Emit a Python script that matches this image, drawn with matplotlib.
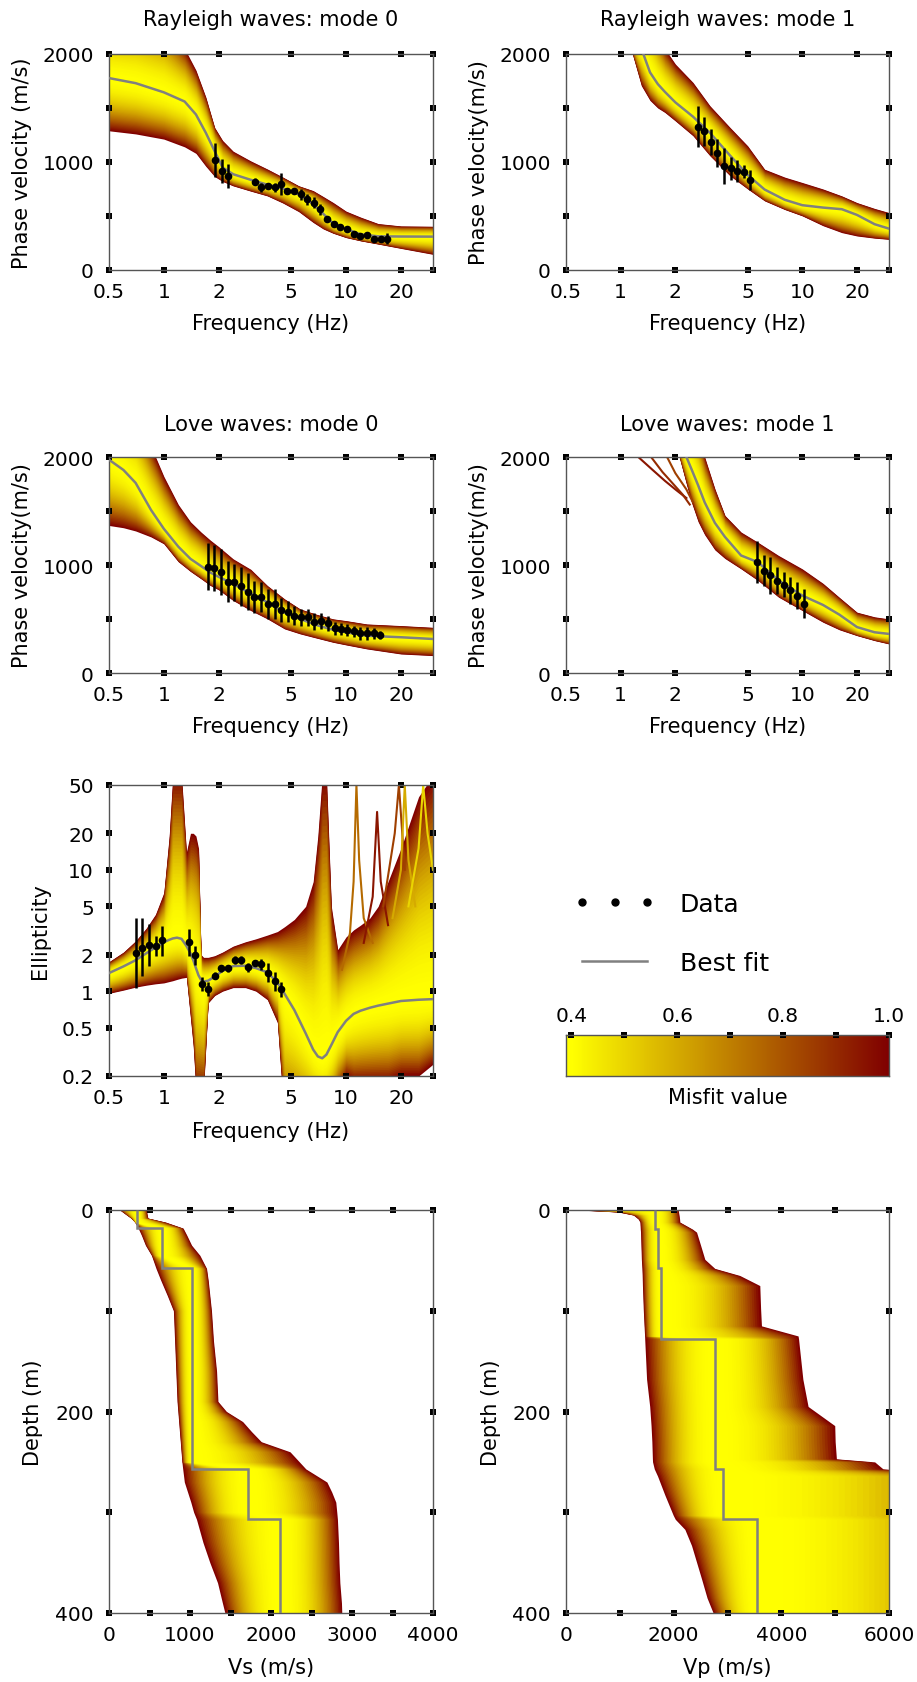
import numpy as np
import matplotlib
matplotlib.use('Agg')
import matplotlib.pyplot as plt
from matplotlib.colors import LinearSegmentedColormap, Normalize
from matplotlib.lines import Line2D
from matplotlib.legend_handler import HandlerLine2D

plt.rcParams['font.family'] = 'DejaVu Sans'

# ---------------- data ----------------
# Rayleigh mode 0
r0_f = [1.91, 2.08, 2.26, 3.17, 3.42, 3.72, 4.05, 4.40, 4.73, 5.15, 5.65, 6.10,
        6.64, 7.23, 7.86, 8.55, 9.31, 10.1, 11.0, 12.0, 13.1, 14.2, 15.5, 16.7]
r0_v = [1017, 918, 872, 819, 764, 779, 764, 794, 733, 733, 702, 655,
        624, 563, 470, 424, 399, 377, 337, 315, 321, 291, 291, 291]
r0_err = [160, 110, 110, 30, 40, 30, 40, 100, 30, 30, 50, 50,
          50, 50, 30, 20, 20, 20, 20, 20, 20, 20, 20, 50]
r0_grid = [0.5, 0.7, 1.0, 1.3, 1.5, 1.7, 1.9, 2.1, 2.4, 3.0, 3.7, 4.5, 5.5, 6.6,
           7.5, 8.5, 10, 12, 15, 20, 30]
r0_best = [1777, 1730, 1645, 1560, 1440, 1270, 1100, 950, 887, 835, 790, 755, 700, 610,
           520, 430, 380, 330, 312, 310, 309]
r0_hi = [2400, 2400, 2300, 2050, 1850, 1600, 1320, 1200, 1100, 1010, 935, 860, 780, 735,
         680, 625, 545, 490, 430, 408, 405]
r0_lo = [1289, 1260, 1212, 1140, 1080, 960, 865, 820, 779, 730, 686, 620, 540, 440,
         380, 340, 300, 270, 240, 200, 145]

# Rayleigh mode 1
r1_f = [2.65, 2.88, 3.13, 3.41, 3.71, 4.04, 4.39, 4.76, 5.18]
r1_v = [1326, 1283, 1187, 1082, 964, 940, 918, 912, 832]
r1_err = [190, 135, 120, 130, 165, 110, 100, 60, 90]
r1_grid = [1.16, 1.3, 1.45, 1.6, 1.75, 2.0, 2.5, 3.1, 4.0, 5.0, 6.2, 8.0, 10, 13, 16.5,
           20, 25, 30]
r1_best = [2150, 2050, 1830, 1722, 1650, 1552, 1420, 1270, 1060, 880, 745, 650, 600, 578,
           563, 510, 424, 383]
r1_hi = [2600, 2500, 2400, 2200, 2050, 1907, 1737, 1521, 1320, 1150, 933, 860, 810, 750,
         686, 624, 570, 532]
r1_lo = [2000, 1706, 1570, 1500, 1459, 1380, 1243, 1057, 872, 750, 640, 560, 501, 410,
         346, 315, 295, 284]

# Love mode 0
l0_f = [1.75, 1.89, 2.06, 2.24, 2.44, 2.65, 2.89, 3.14, 3.42, 3.72, 4.05, 4.40, 4.79,
        5.21, 5.68, 6.18, 6.71, 7.31, 7.96, 8.67, 9.42, 10.1, 11.0, 12.0, 13.0, 14.2, 15.3]
l0_v = [986, 971, 934, 847, 841, 801, 754, 708, 702, 640, 640, 584, 569,
        532, 516, 516, 476, 485, 461, 414, 408, 399, 386, 368, 368, 368, 352]
l0_err = [216, 216, 216, 193, 170, 178, 170, 148, 140, 140, 140, 110, 100,
          85, 80, 80, 75, 75, 70, 60, 55, 55, 50, 60, 60, 50, 40]
l0_grid = [0.5, 0.6, 0.7, 0.85, 1.0, 1.2, 1.4, 1.6, 1.8, 2.0, 2.4, 3.0, 3.7, 4.6, 5.6,
           7.0, 8.5, 10, 13, 20, 30]
l0_best = [1975, 1880, 1760, 1510, 1335, 1170, 1057, 990, 930, 890, 825, 735, 655, 560,
           500, 440, 400, 377, 345, 331, 315]
l0_hi = [2500, 2500, 2450, 2100, 1820, 1560, 1400, 1305, 1230, 1170, 1057, 960, 810, 686,
         593, 540, 501, 485, 454, 439, 423]
l0_lo = [1366, 1345, 1315, 1260, 1196, 1030, 940, 872, 810, 770, 671, 578, 501, 408,
         362, 320, 284, 260, 223, 176, 161]

# Love mode 1
l1_f = [5.64, 6.13, 6.67, 7.26, 7.89, 8.59, 9.35, 10.2]
l1_v = [1026, 949, 903, 856, 819, 764, 717, 640]
l1_err = [193, 147, 170, 124, 116, 124, 127, 134]
l1_grid = [2.1, 2.3, 2.45, 2.67, 2.9, 3.3, 3.75, 4.6, 5.7, 7.4, 10, 13, 16, 20, 25, 30]
l1_best = [2150, 2000, 1890, 1737, 1580, 1390, 1260, 1088, 1026, 856, 717, 630, 540,
           425, 377, 362]
l1_hi = [2700, 2500, 2400, 2250, 2000, 1706, 1459, 1305, 1210, 1088, 964, 830, 700,
         563, 520, 501]
l1_lo = [2000, 1750, 1583, 1400, 1280, 1140, 1060, 964, 856, 702, 578, 470, 400,
         346, 300, 269]
l1_stray_f = [[1.25, 1.5, 1.75, 2.0, 2.3], [1.47, 1.7, 1.9, 2.2, 2.4], [1.8, 2.0, 2.3, 2.5]]
l1_stray_v = [[2000, 1880, 1780, 1700, 1620], [2000, 1860, 1770, 1650, 1560],
              [2000, 1850, 1700, 1580]]
l1_stray_m = [0.95, 0.9, 0.85]

# Ellipticity
el_f = [0.70, 0.76, 0.83, 0.90, 0.98, 1.37, 1.48, 1.61, 1.75, 1.91, 2.06, 2.24, 2.46,
        2.65, 2.89, 3.17, 3.42, 3.72, 4.05, 4.40]
el_v = [2.08, 2.28, 2.41, 2.36, 2.63, 2.53, 1.98, 1.14, 1.04, 1.34, 1.54, 1.54, 1.81,
        1.81, 1.57, 1.70, 1.66, 1.42, 1.21, 1.04]
el_lo_err = [1.07, 1.34, 1.61, 1.95, 1.95, 1.95, 1.65, 1.0, 0.92, 1.25, 1.44, 1.44, 1.68,
             1.68, 1.45, 1.60, 1.50, 1.2, 1.0, 0.9]
el_hi_err = [3.98, 3.98, 3.56, 2.86, 3.46, 3.25, 2.35, 1.3, 1.18, 1.45, 1.65, 1.65, 1.95,
             1.95, 1.70, 1.80, 1.85, 1.7, 1.45, 1.2]
el_grid = [0.5, 0.6, 0.7, 0.8, 0.9, 1.0, 1.07, 1.12, 1.18, 1.25, 1.33, 1.4, 1.45, 1.5,
           1.55, 1.6, 1.65, 1.75, 1.9, 2.1, 2.4, 2.8, 3.2, 3.7, 4.2, 4.6, 5.2, 6.0, 6.6,
           7.0, 7.4, 7.8, 8.3, 9.0, 10, 11, 12, 13.5, 15, 17, 20, 25, 30]
el_best = [1.41, 1.6, 1.8, 2.05, 2.3, 2.53, 2.65, 2.72, 2.76, 2.7, 2.36, 2.05, 1.8, 1.55,
           1.35, 1.24, 1.2, 1.22, 1.32, 1.47, 1.61, 1.62, 1.55, 1.43, 1.18, 0.95, 0.70,
           0.45, 0.33, 0.29, 0.28, 0.30, 0.36, 0.46, 0.57, 0.65, 0.69, 0.73, 0.76, 0.79,
           0.83, 0.85, 0.86]
el_hi = [1.75, 2.1, 2.6, 3.3, 4.3, 6.5, 19, 60, 60, 60, 14, 20, 20, 19,
         15, 2.0, 1.9, 1.9, 1.96, 2.1, 2.35, 2.55, 2.7, 2.9, 3.1, 3.4, 3.9,
         5.0, 8, 19, 60, 60, 5, 2.2, 2.8, 3.2, 3.5, 4, 5, 8,
         15, 40, 60]
el_lo = [0.96, 1.02, 1.08, 1.12, 1.15, 1.17, 1.2, 1.22, 1.25, 1.28, 1.3, 0.6, 0.35, 0.15,
         0.15, 0.15, 0.15, 0.8, 0.92, 1.0, 1.07, 1.07, 1.0, 0.85, 0.55, 0.08, 0.08,
         0.08, 0.08, 0.08, 0.08, 0.08, 0.1, 0.15, 0.2, 0.18, 0.18, 0.18, 0.18, 0.18,
         0.2, 0.2, 0.25]
el_spike_f = [[9.5, 10.5, 11.0, 11.4, 11.8, 12.5, 14], [12.5, 14, 14.8, 15.5, 17],
              [16, 18.5, 19.5, 21], [18, 20, 21, 22, 24], [22, 25, 26.5, 28, 30]]
el_spike_v = [[1.5, 3, 8, 50, 12, 4, 2.5], [2.5, 6, 30, 8, 3.5],
              [5, 20, 50, 10], [4, 10, 50, 12, 5], [5, 15, 50, 20, 10]]
el_spike_m = [0.75, 0.95, 0.85, 0.6, 0.5]

# Vs profile
vs_depth = [0, 4, 8, 12, 18, 25, 35, 45, 58, 70, 85, 100, 130, 160, 190, 200, 210, 220,
            230, 240, 250, 257, 270, 280, 290, 300, 307, 330, 350, 370, 390, 400]
vs_lo = [132, 200, 270, 318, 360, 400, 450, 524, 580, 640, 720, 795, 810, 825, 840, 850,
         860, 870, 880, 890, 900, 910, 930, 970, 1010, 1045, 1080, 1160, 1245, 1340,
         1400, 1431]
vs_hi = [462, 470, 480, 700, 915, 960, 1020, 1122, 1204, 1225, 1245, 1265, 1290, 1328,
         1345, 1450, 1650, 1760, 1880, 2235, 2350, 2430, 2690, 2750, 2800, 2812, 2820,
         2833, 2840, 2850, 2870, 2874]
vs_best_top = [0, 18, 58, 257, 307]
vs_best = [340, 655, 1020, 1720, 2110]

# Vp profile
vp_depth = [0, 2, 5, 9, 12, 19, 22, 35, 49, 58, 65, 75, 98, 115, 125, 128, 168, 195, 214,
            230, 247, 250, 257, 264, 283, 303, 307, 317, 333, 366, 385, 400]
vp_lo = [229, 971, 1250, 1342, 1373, 1380, 1385, 1392, 1400, 1410, 1415, 1420, 1435,
         1450, 1460, 1462, 1497, 1555, 1580, 1595, 1605, 1608, 1640, 1700, 1837, 1992,
         2030, 2208, 2332, 2517, 2620, 2734]
vp_hi = [2085, 2090, 2100, 2110, 2115, 2350, 2425, 2500, 2579, 2765, 3229, 3600, 3615,
         3631, 4311, 4320, 4400, 4497, 4992, 5000, 5023, 5734, 5889, 8000, 8000, 8000,
         8000, 8000, 8000, 8000, 8000, 8000]
vp_best_top = [0, 19, 58, 128, 257, 307]
vp_best = [1650, 1710, 1760, 2760, 2920, 3550]

# ---------------- styling ----------------
cmap = LinearSegmentedColormap.from_list('misfit', ['#ffff00', '#800000'])
norm = Normalize(0.4, 1.0)
GRAY = '#808080'
TICK_FS = 14.5
LAB_FS = 15


def rect(l, t, r, b):
    return [l / 917, 1 - b / 1683, (r - l) / 917, (b - t) / 1683]


def band(ax, x, best, lo, hi, logy=False, vertical=False, n=45, power=2.0):
    best, lo, hi = np.asarray(best, float), np.asarray(lo, float), np.asarray(hi, float)
    if logy:
        best, lo, hi = np.log10(best), np.log10(lo), np.log10(hi)
    for t in np.linspace(1, 0.02, n):
        m = 0.4 + 0.6 * t ** power
        a = best - t * (best - lo)
        b = best + t * (hi - best)
        if logy:
            a, b = 10 ** a, 10 ** b
        if vertical:
            ax.fill_betweenx(x, a, b, color=cmap(norm(m)), lw=0)
        else:
            ax.fill_between(x, a, b, color=cmap(norm(m)), lw=0)


def style(ax, xticks, xlabels, yticks, ylabels):
    ax.set_xticks(xticks)
    ax.set_xticklabels(xlabels)
    ax.set_yticks(yticks)
    ax.set_yticklabels(ylabels)
    ax.minorticks_off()
    ax.tick_params(direction='inout', length=3.8, width=0, top=True, right=True,
                   labelsize=TICK_FS, colors='black')
    ax.tick_params(axis='x', pad=7)
    ax.tick_params(axis='y', pad=9)
    for tick in ax.xaxis.get_major_ticks() + ax.yaxis.get_major_ticks():
        for ln in (tick.tick1line, tick.tick2line):
            ln.set_marker('s')
            ln.set_markerfacecolor('black')
            ln.set_markeredgewidth(0)
    for sp in ax.spines.values():
        sp.set_color('#555555')
        sp.set_linewidth(1.0)


f_ticks = [0.5, 1, 2, 5, 10, 20, 30]
f_labels = ['0.5', '1', '2', '5', '10', '20', '']
v_ticks = [0, 500, 1000, 1500, 2000]
v_labels = ['0', '', '1000', '', '2000']

fig = plt.figure(figsize=(9.17, 16.83), dpi=100)

panels = [
    (rect(109, 55, 433, 271), 'Rayleigh waves: mode 0', 'Phase velocity (m/s)', 1.162,
     r0_grid, r0_best, r0_lo, r0_hi, r0_f, r0_v, r0_err),
    (rect(566, 55, 889, 271), 'Rayleigh waves: mode 1', 'Phase velocity(m/s)', 1.162,
     r1_grid, r1_best, r1_lo, r1_hi, r1_f, r1_v, r1_err),
    (rect(109, 458, 433, 674), 'Love waves: mode 0', 'Phase velocity(m/s)', 1.153,
     l0_grid, l0_best, l0_lo, l0_hi, l0_f, l0_v, l0_err),
    (rect(566, 458, 889, 674), 'Love waves: mode 1', 'Phase velocity(m/s)', 1.153,
     l1_grid, l1_best, l1_lo, l1_hi, l1_f, l1_v, l1_err),
]

axes = []
for pos, title, ylab, ty, grid, best, lo, hi, fd, vd, ed in panels:
    ax = fig.add_axes(pos)
    ax.set_xscale('log')
    band(ax, grid, best, lo, hi)
    ax.plot(grid, best, color=GRAY, lw=1.8, zorder=4)
    ax.errorbar(fd, vd, yerr=ed, fmt='o', color='black', ms=4.5, elinewidth=1.8,
                capsize=0, zorder=5)
    ax.set_xlim(0.5, 30)
    ax.set_ylim(0, 2000)
    style(ax, f_ticks, f_labels, v_ticks, v_labels)
    ax.set_title(title, fontsize=LAB_FS, y=ty, va='center', pad=0)
    ax.set_xlabel('Frequency (Hz)', fontsize=LAB_FS, va='center')
    ax.xaxis.set_label_coords(0.5, -0.245)
    ax.set_ylabel(ylab, fontsize=LAB_FS, va='center')
    ax.yaxis.set_label_coords(-0.268, 0.5)
    axes.append(ax)

# stray high-misfit curves in Love mode 1
for sf, sv, sm in zip(l1_stray_f, l1_stray_v, l1_stray_m):
    axes[3].plot(sf, sv, color=cmap(norm(sm)), lw=1.5, zorder=1)

# Ellipticity
ax5 = fig.add_axes(rect(109, 786, 433, 1077))
ax5.set_xscale('log')
ax5.set_yscale('log')
band(ax5, el_grid, el_best, el_lo, el_hi, logy=True)
for sf, sv, sm in zip(el_spike_f, el_spike_v, el_spike_m):
    ax5.plot(sf, sv, color=cmap(norm(sm)), lw=1.5, zorder=2)
ax5.plot(el_grid, el_best, color=GRAY, lw=1.8, zorder=4)
el_yerr = [np.array(el_v) - np.array(el_lo_err), np.array(el_hi_err) - np.array(el_v)]
ax5.errorbar(el_f, el_v, yerr=el_yerr, fmt='o', color='black', ms=4.5, elinewidth=1.8,
             capsize=0, zorder=5)
ax5.set_xlim(0.5, 30)
ax5.set_ylim(0.2, 50)
e_ticks = [0.2, 0.5, 1, 2, 5, 10, 20, 50]
style(ax5, f_ticks, f_labels, e_ticks, ['0.2', '0.5', '1', '2', '5', '10', '20', '50'])
ax5.set_xlabel('Frequency (Hz)', fontsize=LAB_FS, va='center')
ax5.xaxis.set_label_coords(0.5, -0.189)
ax5.set_ylabel('Ellipticity', fontsize=LAB_FS, va='center')
ax5.yaxis.set_label_coords(-0.213, 0.5)

# Legend
h_data = Line2D([], [], ls='none', marker='o', color='black', ms=5)
h_best = Line2D([], [], color=GRAY, lw=1.8)
fig.legend([h_data, h_best], ['Data', 'Best fit'], loc='upper left',
           bbox_to_anchor=(582 / 917, 1 - 893 / 1683), frameon=False, fontsize=18,
           handlelength=2.6, handletextpad=1.3, labelspacing=1.4, borderpad=0,
           borderaxespad=0, handler_map={h_data: HandlerLine2D(numpoints=3, marker_pad=0)})

# Colour bar
axc = fig.add_axes(rect(566, 1036, 889, 1077))
grad = np.linspace(0.39, 1.0, 256)[None, :]
axc.imshow(grad, cmap=cmap, norm=norm, extent=[0.39, 1.0, 0, 1], aspect='auto')
axc.set_xlim(0.39, 1.0)
axc.set_ylim(0, 1)
axc.set_xticks([0.4, 0.5, 0.6, 0.7, 0.8, 0.9, 1.0])
axc.set_xticklabels(['0.4', '', '0.6', '', '0.8', '', '1.0'])
axc.set_yticks([])
axc.tick_params(axis='x', direction='inout', length=3.8, width=0, top=True, bottom=False,
                labeltop=True, labelbottom=False, labelsize=TICK_FS, pad=5)
for tick in axc.xaxis.get_major_ticks():
    for ln in (tick.tick1line, tick.tick2line):
        ln.set_marker('s')
        ln.set_markerfacecolor('black')
        ln.set_markeredgewidth(0)
for sp in axc.spines.values():
    sp.set_color('#555555')
    sp.set_linewidth(1.0)
axc.text(0.5, -0.52, 'Misfit value', transform=axc.transAxes, ha='center', va='center',
         fontsize=LAB_FS)

# Profiles
profiles = [
    (rect(109, 1211, 433, 1614), vs_depth, vs_lo, vs_hi, vs_best_top, vs_best, 4000,
     list(range(0, 4001, 500)), ['0', '', '1000', '', '2000', '', '3000', '', '4000'],
     'Vs (m/s)', -0.235),
    (rect(566, 1211, 889, 1614), vp_depth, vp_lo, vp_hi, vp_best_top, vp_best, 6000,
     list(range(0, 6001, 1000)), ['0', '', '2000', '', '4000', '', '6000'],
     'Vp (m/s)', -0.232),
]
for pos, depth, lo, hi, tops, bvals, xmax, xt, xl, xlab, ylx in profiles:
    ax = fig.add_axes(pos)
    depth_arr = np.array(depth)
    centre = np.array(bvals)[np.searchsorted(tops, depth_arr, side='right') - 1]
    band(ax, depth, centre, lo, hi, vertical=True, power=2.6)
    ax.stairs(bvals, tops + [400], orientation='horizontal', baseline=None,
              color=GRAY, lw=1.8, zorder=4)
    ax.set_xlim(0, xmax)
    ax.set_ylim(400, 0)
    style(ax, xt, xl, [0, 100, 200, 300, 400], ['0', '', '200', '', '400'])
    ax.set_xlabel(xlab, fontsize=LAB_FS, va='center')
    ax.xaxis.set_label_coords(0.5, -0.134)
    ax.set_ylabel('Depth (m)', fontsize=LAB_FS, va='center')
    ax.yaxis.set_label_coords(ylx, 0.5)

fig.savefig('out.png', dpi=100)
